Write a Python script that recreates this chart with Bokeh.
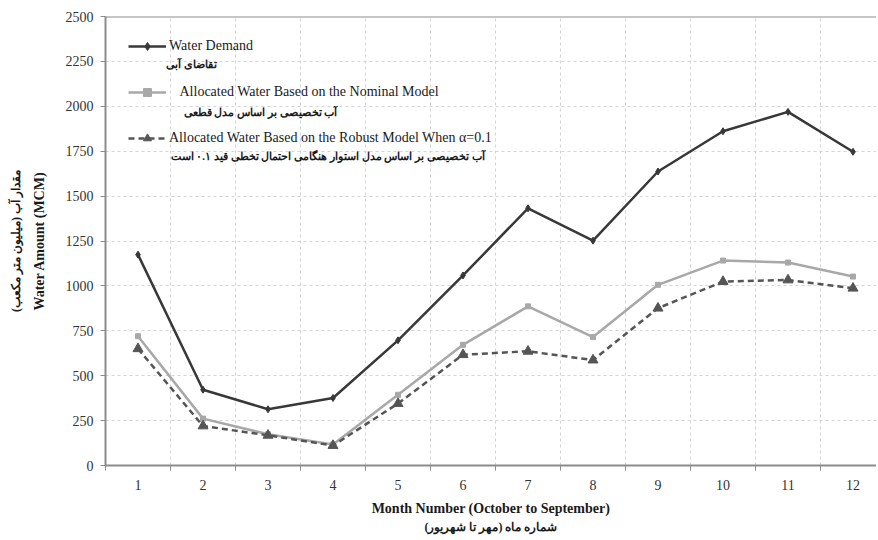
from bokeh.plotting import figure
from bokeh.models import (ColumnDataSource, FixedTicker, LinearAxis, Legend, LegendItem,
                          Label, Span, Range1d)
from bokeh.embed import file_html
from bokeh.resources import INLINE

# ---- data ----
months = [1, 2, 3, 4, 5, 6, 7, 8, 9, 10, 11, 12]
demand = [1174, 422, 313, 376, 697, 1058, 1432, 1252, 1637, 1861, 1969, 1747]
nominal = [720, 261, 174, 117, 394, 672, 886, 715, 1006, 1141, 1130, 1052]
robust = [650, 220, 168, 111, 345, 617, 636, 587, 876, 1024, 1033, 987]
y_ticks = [0, 250, 500, 750, 1000, 1250, 1500, 1750, 2000, 2250, 2500]

name_demand = "Water Demand"
name_nominal = "\u00a0\u00a0\u00a0Allocated Water Based on the Nominal Model"
name_robust = "Allocated Water Based on the Robust Model When \u03b1=0.1"
fa_demand = "تقاضای آبی"
fa_nominal = "آب تخصیصی بر اساس مدل قطعی"
fa_robust = "آب تخصیصی بر اساس مدل استوار هنگامی احتمال تخطی قید ۰.۱ است"
x_title = "Month Number (October to September)"
x_title_fa = "شماره ماه (مهر تا شهریور)"
y_title = "Water Amount (MCM)"
y_title_fa = "مقدار آب (میلیون متر مکعب)"

FONT = "Liberation Serif"
fig_w, fig_h = 876, 536
left_b, top_b, bottom_b = 105, 16, 70
frame_w = fig_w - left_b
frame_h = fig_h - top_b - bottom_b
cat_w = 65.0

src = ColumnDataSource(dict(x=months, demand=demand, nominal=nominal, robust=robust))

p = figure(width=fig_w, height=fig_h, output_backend="svg", toolbar_location=None,
           x_range=Range1d(0.5, 0.5 + frame_w / cat_w), y_range=Range1d(0, y_ticks[-1]),
           min_border_left=left_b, min_border_right=0, min_border_top=top_b,
           min_border_bottom=bottom_b)
p.outline_line_color = None
p.background_fill_color = "white"

# grids
p.ygrid.ticker = FixedTicker(ticks=y_ticks)
p.ygrid.grid_line_color = "#d4d4d4"
p.ygrid.grid_line_dash = "3 3"
p.ygrid.grid_line_width = 1
minor = [m - 0.5 for m in months] + [months[-1] + 0.5]
p.xaxis.ticker = FixedTicker(ticks=months, minor_ticks=minor)
p.xgrid.ticker = FixedTicker(ticks=months, minor_ticks=minor)
p.xgrid.grid_line_color = None
p.xgrid.minor_grid_line_color = "#d4d4d4"
p.xgrid.minor_grid_line_dash = "3 3"

top_line = Span(location=y_ticks[-1], dimension="width", line_color="#8c8c8c", line_width=2)
p.add_layout(top_line)

# axes styling
for ax in (p.xaxis[0], p.yaxis[0]):
    ax.axis_line_color = "#8c8c8c"
    ax.axis_line_width = 2
    ax.major_label_text_font = FONT
    ax.major_label_text_font_size = "14px"
    ax.major_label_text_color = "#333333"
    ax.axis_label_text_font = FONT
    ax.axis_label_text_font_size = "14px"
    ax.axis_label_text_font_style = "bold"
    ax.axis_label_text_color = "#1a1a1a"

p.yaxis.ticker = FixedTicker(ticks=y_ticks)
p.yaxis.major_tick_line_color = "#8c8c8c"
p.yaxis.major_tick_in = 0
p.yaxis.major_tick_out = 5
p.yaxis.minor_tick_line_color = None
p.yaxis.major_label_standoff = 7
p.yaxis.axis_label = y_title
p.yaxis.axis_label_standoff = 16

p.xaxis.major_tick_line_color = None
p.xaxis.minor_tick_line_color = "#8c8c8c"
p.xaxis.minor_tick_in = 0
p.xaxis.minor_tick_out = 5
p.xaxis.major_label_standoff = 8
p.xaxis.axis_label = x_title
p.xaxis.axis_label_standoff = 8

# extra axes for Persian titles
def title_axis(label, standoff):
    ax = LinearAxis(ticker=FixedTicker(ticks=[]), axis_label=label,
                    axis_line_color=None, major_tick_line_color=None,
                    minor_tick_line_color=None, axis_label_standoff=standoff,
                    axis_label_text_font=FONT, axis_label_text_font_size="12px",
                    axis_label_text_font_style="bold", axis_label_text_color="#1a1a1a")
    return ax

p.add_layout(title_axis(y_title_fa, 6), "left")
p.add_layout(title_axis(x_title_fa, 1), "below")

# series
l1 = p.line("x", "demand", source=src, line_color="#383838", line_width=2.5)
m1 = p.scatter("x", "demand", source=src, marker="diamond", size=7,
               fill_color="#383838", line_color="#383838")
l2 = p.line("x", "nominal", source=src, line_color="#a8a8a8", line_width=2.5)
m2 = p.scatter("x", "nominal", source=src, marker="square", size=5,
               fill_color="#a8a8a8", line_color="#a8a8a8")
l3 = p.line("x", "robust", source=src, line_color="#555555", line_width=2.5, line_dash="6 4")
m3 = p.scatter("x", "robust", source=src, marker="triangle", size=10,
               fill_color="#555555", line_color="#555555")

legend = Legend(items=[LegendItem(label=name_demand, renderers=[l1, m1]),
                       LegendItem(label=name_nominal, renderers=[l2, m2]),
                       LegendItem(label=name_robust, renderers=[l3, m3])],
                location=(23, frame_h - 133), orientation="vertical",
                glyph_width=38, glyph_height=20, label_height=20, spacing=26,
                label_standoff=3, padding=0, margin=0,
                label_text_font=FONT, label_text_font_size="14px",
                label_text_color="#1a1a1a",
                background_fill_alpha=0, border_line_color=None)
p.add_layout(legend)

for txt, xc, yc in [(fa_demand, 86, 48), (fa_nominal, 155, 96), (fa_robust, 222, 140)]:
    p.add_layout(Label(x=xc, y=frame_h - yc, x_units="screen", y_units="screen",
                       text=txt, text_align="center", text_baseline="middle",
                       text_font=FONT, text_font_size="11px", text_font_style="bold",
                       text_color="#1a1a1a"))

open("out.html", "w").write(file_html(p, INLINE))
